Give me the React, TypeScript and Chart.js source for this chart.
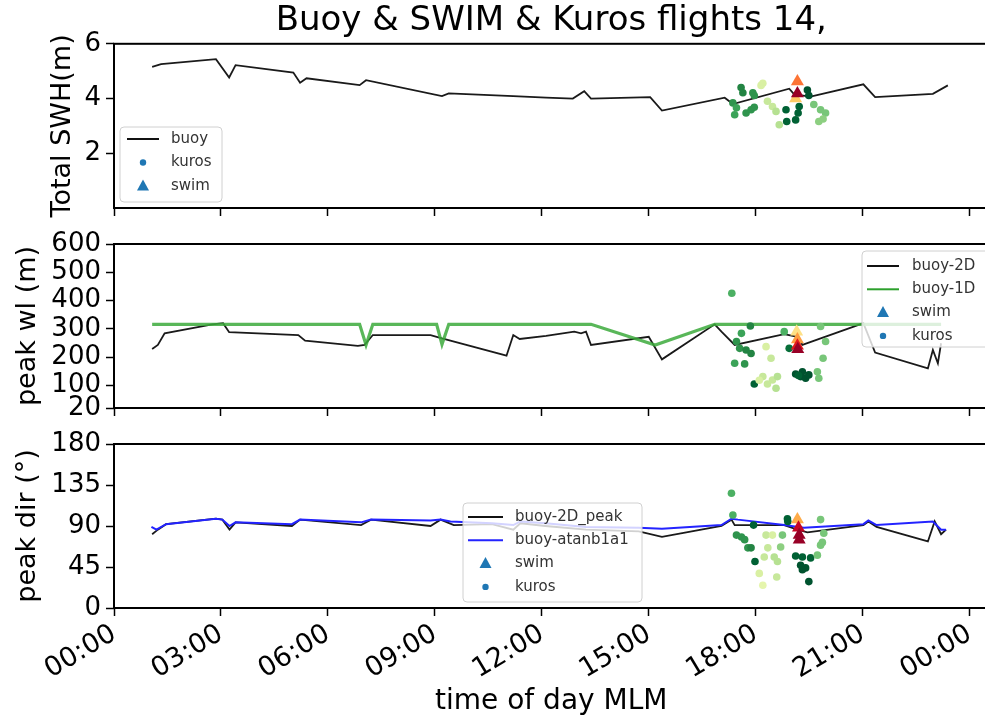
import React, { useEffect, useRef } from 'react';
import { Chart, registerables } from 'chart.js';

Chart.register(...registerables);

const FONT = "'DejaVu Sans', sans-serif";
const TITLE = 'Buoy & SWIM & Kuros flights 14,';

// ---- x axis (hours of day) ----
const X_MAX = 24.53;
const X_TICK_HOURS = [0, 3, 6, 9, 12, 15, 18, 21, 24];
const X_TICK_LABELS = ['00:00', '03:00', '06:00', '09:00', '12:00', '15:00', '18:00', '21:00', '00:00'];

// ---- panel 1 : total SWH ----
const SWH_TICKS = [2, 4, 6];
const buoyTime1 = [1.07, 1.32, 2.86, 3.23, 3.41, 5.03, 5.22, 5.40, 6.89, 7.07, 9.20, 9.39, 11.2, 12.12, 12.87, 13.19, 13.38, 15.04, 15.37, 17.13, 17.36, 18.94, 19.08, 19.54, 21.02, 21.35, 22.97, 23.39];
const buoySWH = [5.16, 5.26, 5.44, 4.77, 5.22, 4.95, 4.58, 4.74, 4.49, 4.67, 4.09, 4.19, 4.09, 4.03, 4.0, 4.27, 4.0, 4.05, 3.56, 4.03, 3.80, 4.36, 4.15, 4.07, 4.52, 4.05, 4.17, 4.48];
const kurosTime1 = [17.59, 17.64, 17.92, 17.96, 17.36, 17.46, 17.41, 17.73, 17.87, 17.96, 18.2, 18.15, 18.33, 18.47, 18.57, 18.85, 18.87, 18.66, 19.12, 19.19, 19.22, 19.45, 19.49, 19.63, 19.82, 19.96, 19.77, 19.89];
const kurosSWH = [4.40, 4.21, 4.21, 4.11, 3.84, 3.66, 3.41, 3.47, 3.59, 3.68, 4.56, 4.48, 3.90, 3.71, 3.53, 3.59, 3.16, 3.04, 3.22, 3.47, 3.71, 4.31, 4.11, 3.78, 3.59, 3.47, 3.16, 3.25];
const kurosC1 = [0.75, 0.75, 0.7, 0.7, 0.7, 0.65, 0.65, 0.7, 0.7, 0.7, 0.25, 0.25, 0.3, 0.3, 0.35, 0.9, 0.9, 0.35, 0.9, 0.9, 0.9, 0.95, 0.95, 0.5, 0.5, 0.5, 0.45, 0.45];
const swimTime1 = [19.12, 19.17, 19.17];
const swimSWH = [4.0, 4.62, 4.18];
const swimC1 = [0.3, 0.55, 0.95];

// ---- panel 2 : peak wavelength ----
const WL_TICKS = [20, 100, 200, 300, 400, 500, 600];
const buoy2DTime2 = [1.07, 1.23, 1.42, 2.76, 3.06, 3.23, 5.17, 5.36, 6.84, 7.03, 7.26, 8.88, 9.2, 11.01, 11.2, 11.38, 12.12, 12.91, 13.1, 13.24, 13.38, 15.0, 15.37, 16.85, 17.04, 17.41, 18.8, 19.17, 19.31, 20.75, 21.02, 21.35, 22.83, 22.97, 23.11, 23.2];
const buoy2DWl = [229, 243, 284, 316, 320, 288, 278, 258, 240, 243, 278, 278, 266, 205, 278, 264, 275, 290, 284, 290, 243, 272, 192, 316, 290, 243, 281, 272, 243, 308, 320, 216, 160, 225, 178, 249];
const buoy1DTime2 = [1.07, 6.89, 7.07, 7.26, 9.05, 9.2, 9.39, 13.38, 15.18, 16.85, 23.2];
const buoy1DWl = [316, 316, 243, 316, 316, 245, 316, 316, 243, 316, 316];
const kurosTime2 = [17.33, 17.85, 17.6, 17.46, 17.55, 17.73, 17.87, 17.41, 17.69, 17.96, 18.29, 18.43, 18.2, 18.47, 18.61, 18.57, 18.8, 18.94, 19.12, 19.26, 19.4, 19.49, 19.31, 19.73, 19.77, 19.82, 19.96, 19.89, 18.1, 18.33, 19.2];
const kurosWl = [426, 310, 284, 255, 231, 225, 213, 178, 176, 105, 237, 196, 131, 119, 131, 90, 290, 231, 140, 131, 125, 137, 148, 148, 125, 308, 255, 196, 118, 105, 135];
const kurosC2 = [0.6, 0.75, 0.65, 0.7, 0.7, 0.75, 0.75, 0.65, 0.7, 0.9, 0.25, 0.3, 0.3, 0.3, 0.35, 0.35, 0.6, 0.85, 0.95, 0.95, 0.95, 0.95, 0.95, 0.5, 0.5, 0.5, 0.5, 0.5, 0.25, 0.3, 0.9];
const swimTime2 = [19.15, 19.17, 19.17, 19.18];
const swimWl = [290, 262, 240, 228];
const swimC2 = [0.2, 0.45, 0.75, 0.95];

// ---- panel 3 : peak direction ----
const DIR_TICKS = [0, 45, 90, 135, 180];
const buoy2DTime3 = [1.07, 1.23, 1.46, 2.86, 3.04, 3.24, 3.41, 4.99, 5.22, 6.93, 7.21, 8.88, 9.16, 9.53, 10.6, 11.2, 11.4, 12.1, 13.24, 14.72, 15.37, 17.04, 17.32, 17.41, 18.8, 19.17, 19.45, 21.02, 21.16, 21.39, 22.83, 23.02, 23.2, 23.34];
const buoy2DDir = [81, 86, 92, 98, 97, 86, 94, 90, 97, 91, 97, 90, 97, 91, 92, 86, 93, 90, 86, 84, 78, 90, 97, 91, 91, 86, 83, 91, 95, 89, 73, 95, 81, 86];
const atanTime3 = [1.05, 1.19, 1.46, 2.86, 3.04, 3.24, 3.41, 4.99, 5.22, 6.93, 7.21, 8.88, 9.16, 9.44, 10.6, 11.2, 11.4, 12.1, 13.24, 14.72, 15.37, 17.04, 17.32, 17.5, 18.8, 19.35, 21.02, 21.16, 21.39, 22.97, 23.2, 23.34];
const atanDir = [89, 86, 92, 98, 97, 90, 94, 92, 97, 94, 97, 96, 97, 95, 93, 91, 95, 93, 89, 88, 87, 91, 98, 97, 91, 88, 92, 96, 91, 95, 86, 86];
const kurosTime3 = [17.32, 17.36, 17.46, 17.6, 17.69, 17.78, 17.87, 17.98, 17.94, 18.29, 18.47, 18.34, 18.24, 18.52, 18.61, 18.1, 18.2, 18.59, 18.75, 18.7, 18.89, 18.9, 19.12, 19.31, 19.54, 19.26, 19.4, 19.31, 19.49, 19.73, 19.82, 19.91, 19.87, 19.82];
const kurosDir = [126, 102, 80, 78, 75, 66, 66, 51, 91, 80, 80, 66, 56, 56, 51, 38, 25, 34, 80, 67, 98, 95, 57, 56, 55, 47, 44, 42, 29, 58, 69, 82, 72, 97];
const kurosC3 = [0.6, 0.6, 0.7, 0.7, 0.7, 0.7, 0.75, 0.9, 0.9, 0.3, 0.25, 0.3, 0.3, 0.35, 0.35, 0.25, 0.2, 0.3, 0.5, 0.45, 0.9, 0.9, 0.9, 0.9, 0.9, 0.95, 0.95, 0.95, 0.95, 0.5, 0.5, 0.5, 0.5, 0.5];
const swimTime3 = [19.17, 19.2, 19.22, 19.22];
const swimDir = [97, 88, 80, 75];
const swimC3 = [0.4, 0.85, 0.95, 0.95];

// ---- colormaps ----
const YLGN = ['#ffffe5', '#f7fcb9', '#d9f0a3', '#addd8e', '#78c679', '#41ab5d', '#238443', '#006837', '#004529'];
const YLORRD = ['#ffffcc', '#ffeda0', '#fed976', '#feb24c', '#fd8d3c', '#fc4e2a', '#e31a1c', '#bd0026', '#800026'];

function cmap(list: string[], t: number): string {
  const f = Math.max(0, Math.min(1, t)) * (list.length - 1);
  const i = Math.min(list.length - 2, Math.floor(f));
  const u = f - i;
  const a = list[i], b = list[i + 1];
  const pa = [1, 3, 5].map((k) => parseInt(a.slice(k, k + 2), 16));
  const pb = [1, 3, 5].map((k) => parseInt(b.slice(k, k + 2), 16));
  const c = pa.map((v, k) => Math.round(v + (pb[k] - v) * u));
  return `rgb(${c[0]},${c[1]},${c[2]})`;
}

const pts = (xs: number[], ys: number[]) => xs.map((x, i) => ({ x, y: ys[i] }));

function lineDs(label: string, xs: number[], ys: number[], color: string, width: number) {
  return {
    label, data: pts(xs, ys), showLine: true, borderColor: color, backgroundColor: color,
    borderWidth: width, pointRadius: 0, pointHoverRadius: 0, tension: 0,
  };
}
function kurosDs(xs: number[], ys: number[], cs: number[]) {
  const cols = cs.map((c) => cmap(YLGN, c));
  return {
    label: 'kuros', data: pts(xs, ys), pointBackgroundColor: cols, backgroundColor: cols,
    pointBorderWidth: 0, borderWidth: 0, pointRadius: 3.8, showLine: false,
  };
}
function swimDs(xs: number[], ys: number[], cs: number[]) {
  const cols = cs.map((c) => cmap(YLORRD, c));
  return {
    label: 'swim', data: pts(xs, ys), pointStyle: 'triangle', pointBackgroundColor: cols, backgroundColor: cols,
    pointBorderWidth: 0, borderWidth: 0, pointRadius: 7.5, showLine: false,
  };
}

// ---- plugins ----
const spinesPlugin = {
  id: 'spines',
  afterDraw(chart: any) {
    const { ctx, chartArea: a } = chart;
    ctx.save();
    ctx.strokeStyle = '#000';
    ctx.lineWidth = 2;
    ctx.strokeRect(a.left, a.top, a.right - a.left, a.bottom - a.top);
    ctx.restore();
  },
};

type LegItem = { label: string; kind: 'line' | 'dot' | 'tri'; color: string; width?: number };
type LegSpec = { x: number; y: number; w: number; h: number; row0: number; step: number; s0: number; s1: number; tx: number; items: LegItem[] };

function legendPlugin(spec: LegSpec) {
  return {
    id: 'boxLegend',
    afterDraw(chart: any) {
      const ctx = chart.ctx;
      ctx.save();
      ctx.beginPath();
      (ctx as any).roundRect(spec.x, spec.y, spec.w, spec.h, 4);
      ctx.fillStyle = 'rgba(255,255,255,0.8)';
      ctx.fill();
      ctx.strokeStyle = '#d0d0d0';
      ctx.lineWidth = 1;
      ctx.stroke();
      spec.items.forEach((it, i) => {
        const y = spec.row0 + i * spec.step;
        const cx = (spec.s0 + spec.s1) / 2;
        ctx.fillStyle = it.color;
        ctx.strokeStyle = it.color;
        if (it.kind === 'line') {
          ctx.lineWidth = it.width || 2;
          ctx.beginPath();
          ctx.moveTo(spec.s0, y);
          ctx.lineTo(spec.s1, y);
          ctx.stroke();
        } else if (it.kind === 'dot') {
          ctx.beginPath();
          ctx.arc(cx, y, 3.2, 0, Math.PI * 2);
          ctx.fill();
        } else {
          ctx.beginPath();
          ctx.moveTo(cx, y - 6.5);
          ctx.lineTo(cx + 6, y + 4.5);
          ctx.lineTo(cx - 6, y + 4.5);
          ctx.closePath();
          ctx.fill();
        }
        ctx.fillStyle = '#333';
        ctx.font = `15px ${FONT}`;
        ctx.textBaseline = 'middle';
        ctx.textAlign = 'left';
        ctx.fillText(it.label, spec.tx, y);
      });
      ctx.restore();
    },
  };
}

// ---- axes ----
function yAxis(min: number, max: number, ticks: number[], title: string, padLeft: number) {
  return {
    type: 'linear', min, max,
    afterBuildTicks: (s: any) => { s.ticks = ticks.map((v) => ({ value: v })); },
    afterFit: (s: any) => { s.width = 114 - padLeft; s.paddingTop = 0; s.paddingBottom = 0; },
    ticks: { autoSkip: false, color: '#000', font: { family: FONT, size: 26 }, padding: 5 },
    grid: { drawOnChartArea: false, drawTicks: true, tickLength: 8, color: '#000', tickWidth: 1.5 },
    border: { display: false },
    title: { display: true, text: title, color: '#000', font: { family: FONT, size: 27 }, padding: { top: 0, bottom: 0 } },
  };
}

function xAxis(bottom: boolean) {
  return {
    type: 'linear', min: 0, max: X_MAX,
    afterBuildTicks: (s: any) => { s.ticks = X_TICK_HOURS.map((v) => ({ value: v })); },
    afterFit: (s: any) => { s.height = bottom ? 114 : 14; s.paddingLeft = 0; s.paddingRight = 0; },
    ticks: {
      display: bottom, autoSkip: false, maxRotation: 31, minRotation: 31, padding: 2, color: '#000',
      font: { family: FONT, size: 27 }, callback: (_v: any, i: number) => X_TICK_LABELS[i],
    },
    grid: { drawOnChartArea: false, drawTicks: true, tickLength: 8, color: '#000', tickWidth: 1.5 },
    border: { display: false },
    title: bottom
      ? { display: true, text: 'time of day MLM', color: '#000', font: { family: FONT, size: 28 }, padding: { top: 0, bottom: 3 } }
      : { display: false },
  };
}

function baseOptions(padTop: number, padLeft: number, y: any, bottom: boolean, titleOn: boolean) {
  return {
    responsive: false, animation: false, devicePixelRatio: 1,
    layout: { padding: { top: padTop, left: padLeft, right: 0, bottom: 0 } },
    scales: { x: xAxis(bottom), y },
    plugins: {
      legend: { display: false },
      tooltip: { enabled: false },
      title: titleOn
        ? { display: true, text: TITLE, color: '#000', fullSize: false, font: { family: FONT, size: 34, weight: 'normal' }, padding: { top: 1, bottom: 2 } }
        : { display: false },
    },
  };
}

export default function App() {
  const r1 = useRef<HTMLCanvasElement>(null);
  const r2 = useRef<HTMLCanvasElement>(null);
  const r3 = useRef<HTMLCanvasElement>(null);

  useEffect(() => {
    const c1 = new Chart(r1.current as HTMLCanvasElement, {
      type: 'scatter',
      data: {
        datasets: [
          swimDs(swimTime1, swimSWH, swimC1),
          kurosDs(kurosTime1, kurosSWH, kurosC1),
          lineDs('buoy', buoyTime1, buoySWH, '#1a1a1a', 1.8),
        ] as any,
      },
      options: baseOptions(0, 47, yAxis(0, 6, SWH_TICKS, 'Total SWH(m)', 47), false, true) as any,
      plugins: [spinesPlugin, legendPlugin({
        x: 120, y: 127, w: 102, h: 75, row0: 139, step: 23.5, s0: 127, s1: 159, tx: 171,
        items: [
          { label: 'buoy', kind: 'line', color: '#111', width: 2 },
          { label: 'kuros', kind: 'dot', color: '#1f77b4' },
          { label: 'swim', kind: 'tri', color: '#1f77b4' },
        ],
      })],
    });

    const c2 = new Chart(r2.current as HTMLCanvasElement, {
      type: 'scatter',
      data: {
        datasets: [
          swimDs(swimTime2, swimWl, swimC2),
          kurosDs(kurosTime2, kurosWl, kurosC2),
          lineDs('buoy-1D', buoy1DTime2, buoy1DWl, 'rgba(60,170,60,0.85)', 3.2),
          lineDs('buoy-2D', buoy2DTime2, buoy2DWl, '#1a1a1a', 1.8),
        ] as any,
      },
      options: baseOptions(22, 12, yAxis(20, 600, WL_TICKS, 'peak wl (m)', 12), false, false) as any,
      plugins: [spinesPlugin, legendPlugin({
        x: 862, y: 29, w: 130, h: 96, row0: 44, step: 23.3, s0: 867, s1: 899, tx: 912,
        items: [
          { label: 'buoy-2D', kind: 'line', color: '#111', width: 2 },
          { label: 'buoy-1D', kind: 'line', color: '#2ca02c', width: 2 },
          { label: 'swim', kind: 'tri', color: '#1f77b4' },
          { label: 'kuros', kind: 'dot', color: '#1f77b4' },
        ],
      })],
    });

    const c3 = new Chart(r3.current as HTMLCanvasElement, {
      type: 'scatter',
      data: {
        datasets: [
          swimDs(swimTime3, swimDir, swimC3),
          kurosDs(kurosTime3, kurosDir, kurosC3),
          lineDs('buoy-atanb1a1', atanTime3, atanDir, '#2323ff', 2),
          lineDs('buoy-2D_peak', buoy2DTime3, buoy2DDir, '#1a1a1a', 1.8),
        ] as any,
      },
      options: baseOptions(22, 12, yAxis(0, 180, DIR_TICKS, 'peak dir (°)', 12), true, false) as any,
      plugins: [spinesPlugin, legendPlugin({
        x: 463, y: 81, w: 179, h: 99, row0: 95, step: 23.3, s0: 468, s1: 503, tx: 515,
        items: [
          { label: 'buoy-2D_peak', kind: 'line', color: '#111', width: 2 },
          { label: 'buoy-atanb1a1', kind: 'line', color: '#2323ff', width: 2 },
          { label: 'swim', kind: 'tri', color: '#1f77b4' },
          { label: 'kuros', kind: 'dot', color: '#1f77b4' },
        ],
      })],
    });

    return () => { c1.destroy(); c2.destroy(); c3.destroy(); };
  }, []);

  const cv = (top: number, h: number): React.CSSProperties => ({ position: 'absolute', left: 0, top, width: 996, height: h });

  return (
    <div style={{ position: 'fixed', left: 0, top: 0, width: 985, height: 722, overflow: 'hidden', background: '#fff' }}>
      <canvas ref={r1} width={996} height={222} style={cv(0, 222)} />
      <canvas ref={r2} width={996} height={200} style={cv(222, 200)} />
      <canvas ref={r3} width={996} height={300} style={cv(422, 300)} />
    </div>
  );
}
